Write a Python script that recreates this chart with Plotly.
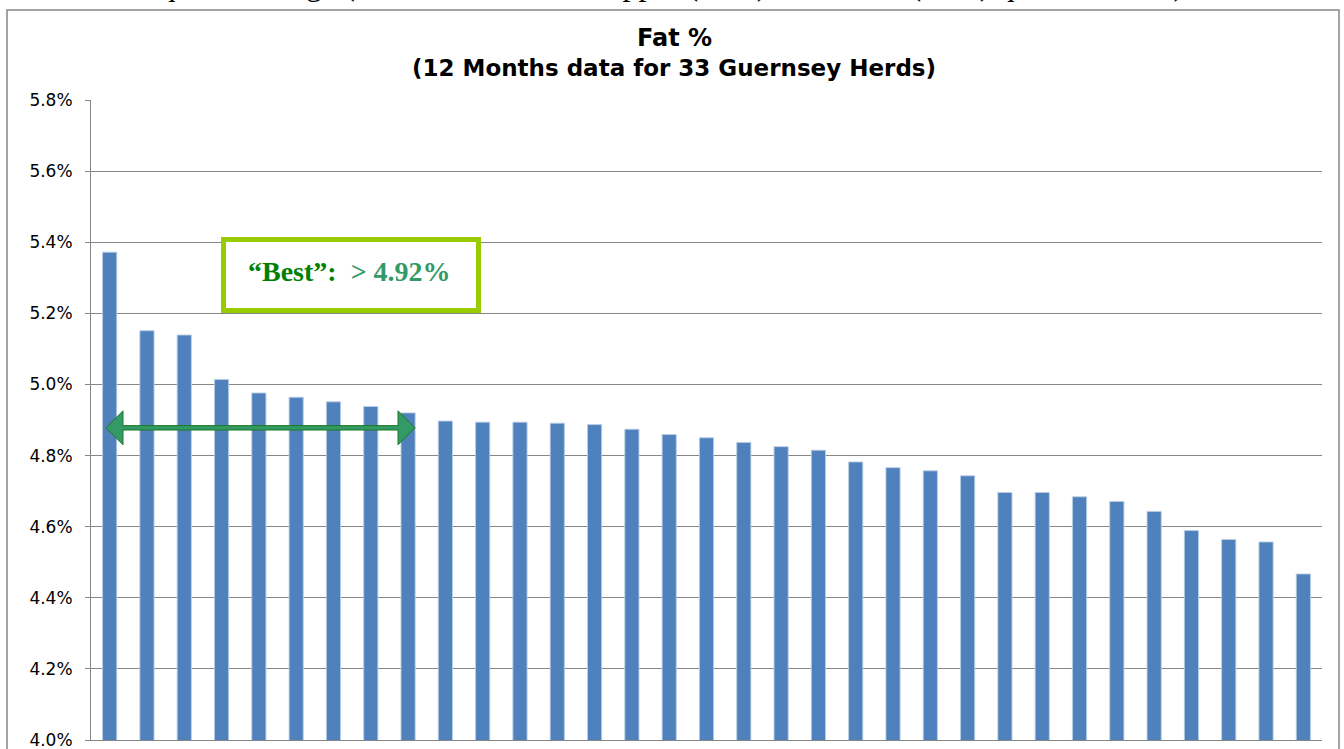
import plotly.graph_objects as go

# ---- data ----
herds = list(range(1, 34))
fat_pct = [5.372, 5.151, 5.139, 5.014, 4.976, 4.964, 4.951, 4.938, 4.920,
           4.897, 4.894, 4.894, 4.891, 4.887, 4.874, 4.859, 4.850, 4.837,
           4.825, 4.815, 4.782, 4.766, 4.757, 4.743, 4.696, 4.696, 4.684,
           4.671, 4.643, 4.589, 4.564, 4.557, 4.467]
y_ticks = [4.0, 4.2, 4.4, 4.6, 4.8, 5.0, 5.2, 5.4, 5.6, 5.8]
y_tick_text = ["4.0%", "4.2%", "4.4%", "4.6%", "4.8%", "5.0%", "5.2%", "5.4%", "5.6%", "5.8%"]
title_line1 = "Fat %"
title_line2 = "(12 Months data for 33 Guernsey Herds)"
best_label = "“Best”:"
best_value = "> 4.92%"
best_count = 9          # herds covered by the "best" arrow
arrow_level = 4.878
top_text = "Inter quartile range (difference between upper (75%) and lower (25%) quartile herds) is:  0.22%"

# ---- layout geometry (pixels) ----
W, H = 1344, 749
L, R, T, B = 91, 22, 100, 9
PW, PH = W - L - R, H - T - B


def px_x(x):
    return (x - L) / PW


def px_y(y):
    return (H - B - y) / PH


fig = go.Figure()
fig.add_trace(go.Bar(
    x=herds, y=fat_pct,
    marker=dict(color="#4F81BD", line=dict(color="rgba(185,205,229,0.9)", width=1)),
    hoverinfo="x+y",
))

gray = "#868686"
fig.update_layout(
    width=W, height=H,
    margin=dict(l=L, r=R, t=T, b=B, autoexpand=False),
    paper_bgcolor="white", plot_bgcolor="white",
    showlegend=False,
    bargap=0.62,
    font=dict(family="DejaVu Sans, Arial", color="black"),
    xaxis=dict(range=[0.5, 33.5], showticklabels=False, showgrid=False,
               showline=True, linecolor=gray, linewidth=1, ticks="", zeroline=False,
               fixedrange=True, automargin=False),
    yaxis=dict(range=[4.0, 5.8], tickvals=y_ticks, ticktext=y_tick_text,
               showgrid=True, gridcolor=gray, gridwidth=1,
               showline=True, linecolor=gray, linewidth=1,
               ticks="outside", ticklen=5, tickcolor=gray,
               ticklabelstandoff=9, ticklabeloverflow="allow",
               tickfont=dict(family="DejaVu Sans, Arial", size=17, color="black"),
               zeroline=False, fixedrange=True, automargin=False),
)

# outer chart frame
fig.add_shape(type="rect", xref="paper", yref="paper",
              x0=px_x(7), x1=px_x(1339), y0=px_y(770), y1=px_y(10),
              line=dict(color=gray, width=1.5), fillcolor="rgba(0,0,0,0)", layer="below")

# title
fig.add_annotation(text="<b>%s</b>" % title_line1, xref="paper", yref="paper",
                   x=px_x(674), y=px_y(38), showarrow=False, xanchor="center", yanchor="middle",
                   font=dict(family="DejaVu Sans, Arial", size=24, color="black"))
fig.add_annotation(text="<b>%s</b>" % title_line2, xref="paper", yref="paper",
                   x=px_x(674), y=px_y(68), showarrow=False, xanchor="center", yanchor="middle",
                   font=dict(family="DejaVu Sans, Arial", size=23, color="black"))

# text line above the chart, cut off by the page top (as in the reference)
fig.add_annotation(text=top_text, xref="paper", yref="paper",
                   x=px_x(706), y=px_y(4), showarrow=False, xanchor="center", yanchor="bottom",
                   font=dict(family="Liberation Serif, Times New Roman", size=32, color="black"))

# "Best" box
x_per_px = 33.0 / PW
y_per_px = 1.8 / PH
bx0 = 0.5 + (223.5 - L) * x_per_px
bx1 = 0.5 + (478.5 - L) * x_per_px
by1 = 4.0 + (H - B - 239.5) * y_per_px
by0 = 4.0 + (H - B - 310.5) * y_per_px
fig.add_shape(type="rect", xref="x", yref="y", x0=bx0, x1=bx1, y0=by0, y1=by1,
              line=dict(color="#99CC00", width=5), fillcolor="white", layer="above")
fig.add_annotation(
    text="<b><span style='color:#008000'>%s</span>&nbsp;&nbsp;<span style='color:#339966'>%s</span></b>"
         % (best_label, best_value.replace(">", "&gt;")),
    xref="x", yref="y", x=(bx0 + bx1) / 2 - 2 * x_per_px, y=(by0 + by1) / 2 + 4 * y_per_px,
    showarrow=False, xanchor="center", yanchor="middle",
    font=dict(family="Liberation Serif, Times New Roman", size=28))

# double-headed arrow spanning the best herds
xa0 = 0.5 + (106 - L) * x_per_px
xa1 = best_count + 0.5 - 0.314
hl = 17 * x_per_px
hh = 17 * y_per_px
sh = 2.2 * y_per_px
y0 = arrow_level
path = ("M {a},{y} L {b},{yt} L {b},{ys} L {c},{ys} L {c},{yt} L {d},{y} "
        "L {c},{yb} L {c},{ysb} L {b},{ysb} L {b},{yb} Z").format(
    a=xa0, b=xa0 + hl, c=xa1 - hl, d=xa1, y=y0, yt=y0 + hh, ys=y0 + sh,
    ysb=y0 - sh, yb=y0 - hh)
fig.add_shape(type="path", xref="x", yref="y", path=path,
              fillcolor="#339966", line=dict(color="#1E7B1E", width=1), layer="above")

fig.write_html("out.html", config={"displayModeBar": False},
               post_script="document.body.style.margin='0';document.body.style.overflow='hidden';")
